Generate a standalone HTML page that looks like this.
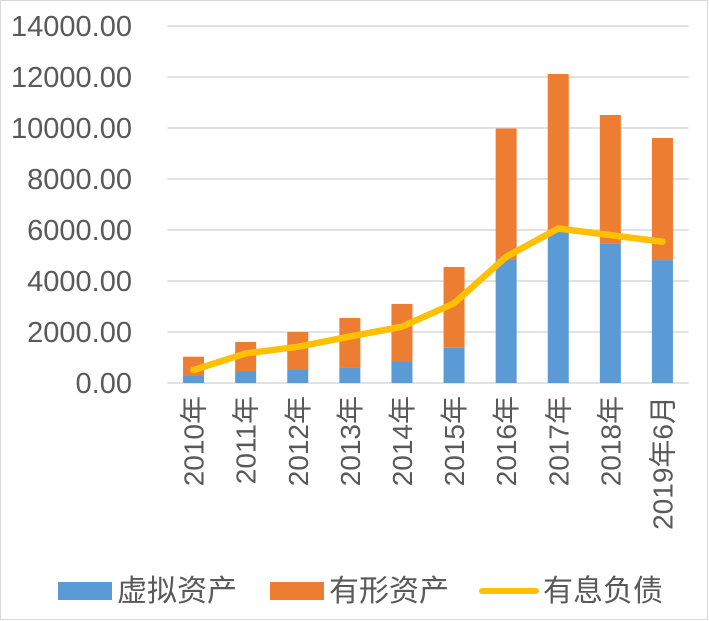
<!DOCTYPE html>
<html><head><meta charset="utf-8"><style>
html,body{margin:0;padding:0;background:#fff;}
svg{display:block;font-family:"Liberation Sans","Noto Sans CJK SC",sans-serif;}
</style></head><body>
<svg id="chart" width="709" height="621" viewBox="0 0 709 621">
<rect x="0.5" y="0.5" width="707" height="619" fill="#fff" stroke="#d9d9d9"/>
<g id="grid"></g><g id="bars"></g><g id="line"></g><g id="labels"></g>
<g>
<rect x="58" y="582" width="54" height="18" fill="#5b9bd5"/>
<text x="117" y="601" font-size="30" fill="#595959">虚拟资产</text>
<rect x="270" y="582" width="54" height="18" fill="#ed7d31"/>
<text x="329" y="601" font-size="30" fill="#595959">有形资产</text>
<line x1="482" y1="591" x2="536" y2="591" stroke="#ffc000" stroke-width="6" stroke-linecap="round"/>
<text x="543" y="601" font-size="30" fill="#595959">有息负债</text>
</g>
</svg>
<script>
const categories=["2010年","2011年","2012年","2013年","2014年","2015年","2016年","2017年","2018年","2019年6月"];
const virtualAssets=[310,470,510,590,860,1385,4850,5930,5480,4820];
const tangibleAssets=[720,1140,1490,1960,2240,3165,5130,6190,5030,4790];
const interestDebt=[510,1160,1420,1820,2210,3125,4950,6060,5800,5540];
const yTicks=[0,2000,4000,6000,8000,10000,12000,14000];
const NS="http://www.w3.org/2000/svg";
const L=167.5,R=688.5,T=26,B=383,maxV=14000;
const y=v=>B-(v/maxV)*(B-T);
const band=(R-L)/categories.length;
const xc=i=>L+band*(i+0.5);
const bw=21;
function mk(tag,attrs,parent){const e=document.createElementNS(NS,tag);for(const k in attrs)e.setAttribute(k,attrs[k]);parent.appendChild(e);return e;}
const grid=document.getElementById('grid'),bars=document.getElementById('bars'),line=document.getElementById('line'),labels=document.getElementById('labels');
yTicks.forEach(t=>{
  const g=mk('line',{x1:L,x2:R,y1:y(t),y2:y(t),stroke:'#d9d9d9','stroke-width':1.5},grid);
  
  
  const tx=mk('text',{x:132,y:y(t)+10,'text-anchor':'end','font-size':29,fill:'#595959'},labels);
  tx.textContent=t.toFixed(2);
  
  
});
categories.forEach((c,i)=>{
  const v=virtualAssets[i],t=tangibleAssets[i];
  const b1=mk('rect',{x:xc(i)-bw/2,y:y(v),width:bw,height:B-y(v),fill:'#5b9bd5'},bars);
  
  
  const b2=mk('rect',{x:xc(i)-bw/2,y:y(v+t),width:bw,height:y(v)-y(v+t),fill:'#ed7d31'},bars);
  
  
  const lx=xc(i)+10,ly=396;
  const tx=mk('text',{x:lx,y:ly,'text-anchor':'end','font-size':28,fill:'#595959',transform:`rotate(-90 ${lx} ${ly})`},labels);
  tx.textContent=c;
  
  
});
const pts=interestDebt.map((v,i)=>xc(i)+','+y(v)).join(' ');
const pl=mk('polyline',{points:pts,fill:'none',stroke:'#ffc000','stroke-width':6.5,'stroke-linejoin':'round','stroke-linecap':'round'},line);


</script>
</body></html>
